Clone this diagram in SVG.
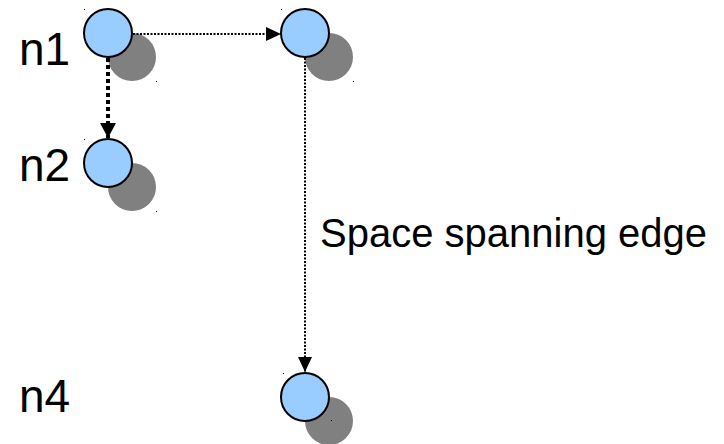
<svg xmlns="http://www.w3.org/2000/svg" width="724" height="444" viewBox="0 0 724 444">
  <style>
    .shadow { fill: #808080; }
    .node { fill: #99ccff; stroke: #000000; stroke-width: 2; }
    .label { font-family: "Liberation Sans", Arial, sans-serif; font-size: 46px; fill: #000000; }
    .elabel { font-family: "Liberation Sans", Arial, sans-serif; font-size: 40px; fill: #000000; }
    .thin { fill: none; stroke: #000000; stroke-width: 2; stroke-dasharray: 2 1.5; }
    .thick { fill: none; stroke: #000000; stroke-width: 4; stroke-dasharray: 4 3; }
    .tick { fill: #000000; }
  </style>
  <defs>
    <marker id="arrowThin" viewBox="0 0 15 14" refX="15" refY="7" markerWidth="15" markerHeight="14" markerUnits="userSpaceOnUse" orient="auto">
      <path d="M0,0 L15,7 L0,14 Z" fill="#000000"/>
    </marker>
    <marker id="arrowThick" viewBox="0 0 15 16" refX="15" refY="8" markerWidth="15" markerHeight="16" markerUnits="userSpaceOnUse" orient="auto">
      <path d="M0,0 L15,8 L0,16 Z" fill="#000000"/>
    </marker>
  </defs>

  <g id="node-n1">
    <circle class="shadow" cx="132" cy="57" r="24"/>
    <circle class="node" cx="108" cy="33" r="24"/>
    <rect class="tick" x="84" y="9" width="1" height="1"/>
    <rect class="tick" x="156" y="81" width="1" height="1"/>
    <text class="label" x="19" y="65">n1</text>
  </g>

  <g id="node-n3">
    <circle class="shadow" cx="329" cy="57" r="24"/>
    <circle class="node" cx="305" cy="33" r="24"/>
    <rect class="tick" x="281" y="9" width="1" height="1"/>
    <rect class="tick" x="353" y="81" width="1" height="1"/>
  </g>

  <g id="node-n2">
    <circle class="shadow" cx="132" cy="187" r="24"/>
    <circle class="node" cx="108" cy="163" r="24"/>
    <rect class="tick" x="84" y="139" width="1" height="1"/>
    <rect class="tick" x="156" y="211" width="1" height="1"/>
    <text class="label" x="19" y="181">n2</text>
  </g>

  <g id="node-n4">
    <circle class="shadow" cx="329" cy="421" r="24"/>
    <circle class="node" cx="305" cy="397" r="24"/>
    <rect class="tick" x="283" y="373" width="1" height="1"/>
    <rect class="tick" x="331" y="420" width="1" height="1"/>
    <text class="label" x="19" y="412">n4</text>
  </g>

  <g id="connectors">
    <line class="thin" x1="133" y1="34" x2="281" y2="34" marker-end="url(#arrowThin)"/>
    <line class="thick" x1="108" y1="58" x2="108" y2="138" marker-end="url(#arrowThick)"/>
    <line class="thin" x1="305" y1="58" x2="305" y2="372" marker-end="url(#arrowThin)"/>
    <text class="elabel" x="320" y="247">Space spanning edge</text>
  </g>
</svg>
